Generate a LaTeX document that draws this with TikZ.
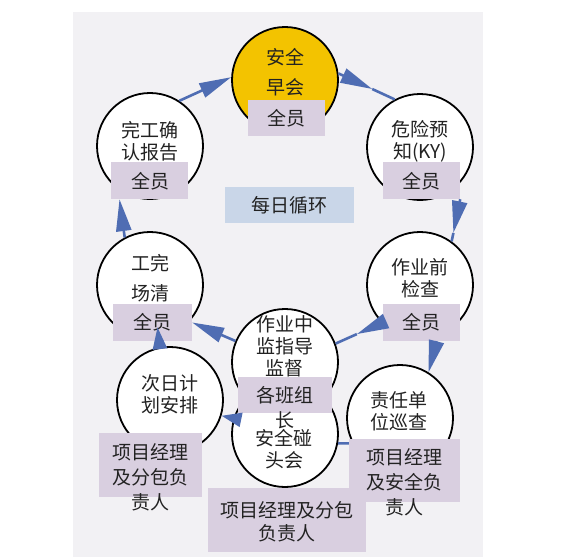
\documentclass[tikz,border=0pt]{standalone}
\usepackage{fontspec}
\newfontfamily\cjk{Noto Sans CJK SC}
\usetikzlibrary{arrows.meta,calc}
\definecolor{panel}{HTML}{F2F1F4}
\definecolor{gold}{HTML}{F3C300}
\definecolor{lav}{HTML}{D9CFE0}
\definecolor{cyc}{HTML}{C9D6E8}
\definecolor{arr}{HTML}{4F6DB3}
\definecolor{ink}{HTML}{222222}
\begin{document}
\begin{tikzpicture}[x=1pt,y=-1pt,
  circ/.style={circle,draw=black,line width=1.8pt,fill=white,minimum size=106pt,inner sep=0pt},
  lbl/.style={fill=lav,inner sep=0pt},
  txt/.style={font=\cjk\fontsize{19}{22}\selectfont,text=ink,align=center,inner sep=0pt},
  conn/.style={draw=arr,line width=2.6pt},
  tipend/.style={-{Triangle[length=32pt,width=15pt]}}
]
\useasboundingbox (0,0) rectangle (563,557);
\fill[panel] (73,12) rectangle (483,557);

% circles
\node[circ,fill=gold] (aq) at (285,80) {};
\node[circ] (wg) at (150,146) {};
\node[circ] (wx) at (420,147) {};
\node[circ] (gw) at (150,285) {};
\node[circ] (zq) at (420,285) {};
\node[circ] (zj) at (285,362) {};
\node[circ] (cr) at (170,400) {};
\node[circ] (zr) at (400,418) {};
\node[circ] (ap) at (285,434) {};

% connector partly hidden by the box
\draw[conn] (zr.208) -- (ap.-10);

% label boxes
\node[lbl,minimum width=77pt,minimum height=36pt] (aqb) at (286.5,118) {};
\node[lbl,minimum width=77pt,minimum height=37pt] (wgb) at (149.5,180.5) {};
\node[lbl,minimum width=77pt,minimum height=37pt] (wxb) at (421.5,180.5) {};
\node[fill=cyc,inner sep=0pt,minimum width=129pt,minimum height=36pt] (cyb) at (289.5,205) {};
\node[lbl,minimum width=79pt,minimum height=37pt] (gwb) at (152.5,322.5) {};
\node[lbl,minimum width=77pt,minimum height=37pt] (zqb) at (421.5,322.5) {};
\node[lbl,minimum width=94pt,minimum height=36pt] (zjb) at (285,395) {};
\node[lbl,minimum width=103pt,minimum height=64pt] (crb) at (150.5,465) {};
\node[lbl,minimum width=111pt,minimum height=63pt] (zrb) at (404.5,470.5) {};
\node[lbl,minimum width=158pt,minimum height=64pt] (apb) at (287,520) {};

% texts
\node[txt] (aqt) at (285,72) {安全\\[8pt]早会};
\node[txt] (aqbt) at (286.5,118) {全员};
\node[txt] (wgt) at (150,141) {完工确\\认报告};
\node[txt] (wgbt) at (150,181) {全员};
\node[txt] (wxt) at (420,141) {危险预\\知(KY)};
\node[txt] (wxbt) at (421,181) {全员};
\node[txt] (cyt) at (289,205) {每日循环};
\node[txt] (gwt) at (150,278) {工完\\[8pt]场清};
\node[txt] (gwbt) at (152,322) {全员};
\node[txt] (zqt) at (420,278.5) {作业前\\检查};
\node[txt] (zqbt) at (421,322) {全员};
\node[txt] (zjt) at (284.5,346.5) {作业中\\监指导\\监督};
\node[txt] (zjbt) at (285,407.5) {各班组\\[3pt]长};
\node[txt] (apt) at (284,449) {安全碰\\头会};
\node[txt] (apbt) at (287,521.5) {项目经理及分包\\[1pt]负责人};
\node[txt] (crt) at (170,394) {次日计\\划安排};
\node[txt] (crbt) at (150,477) {项目经理\\[3pt]及分包负\\[3pt]责人};
\node[txt] (zrt) at (399,411) {责任单\\位巡查};
\node[txt] (zrbt) at (404.5,482.5) {项目经理\\[3pt]及安全负\\[3pt]责人};

% connectors
\draw[conn,tipend] (wg.57) -- (aq.177);
\draw[conn,tipend] (aq.7) -- ($(aq.7)!0.6!(wx.118)$);
\draw[conn] ($(aq.7)!0.6!(wx.118)$) -- (wx.118);
\draw[conn,tipend] (wxb.south east) -- ($(wxb.south east)!0.8!(zq.54)$);
\draw[conn] ($(wxb.south east)!0.8!(zq.54)$) -- (zq.54);
\draw[conn,tipend] (zqb.west) -- ($(zqb.west)!0.55!(zj.20)$);
\draw[conn] ($(zqb.west)!0.55!(zj.20)$) -- (zj.20);
\draw[conn,tipend] (zj.157) -- (gwb.east);
\draw[conn,tipend] (gw.118) -- ([xshift=-30pt]wgb.south);
\draw[conn,-{Triangle[length=22pt,width=14pt]}] (cr.101) -- ($(gwb.south)+(5,-14)$);
\draw[conn,-{Triangle[length=20pt,width=14pt]}] (ap.163) -- (cr.-17);
\draw[conn,tipend] ([xshift=15pt]zqb.south) -- (zr.58);
\end{tikzpicture}
\end{document}
